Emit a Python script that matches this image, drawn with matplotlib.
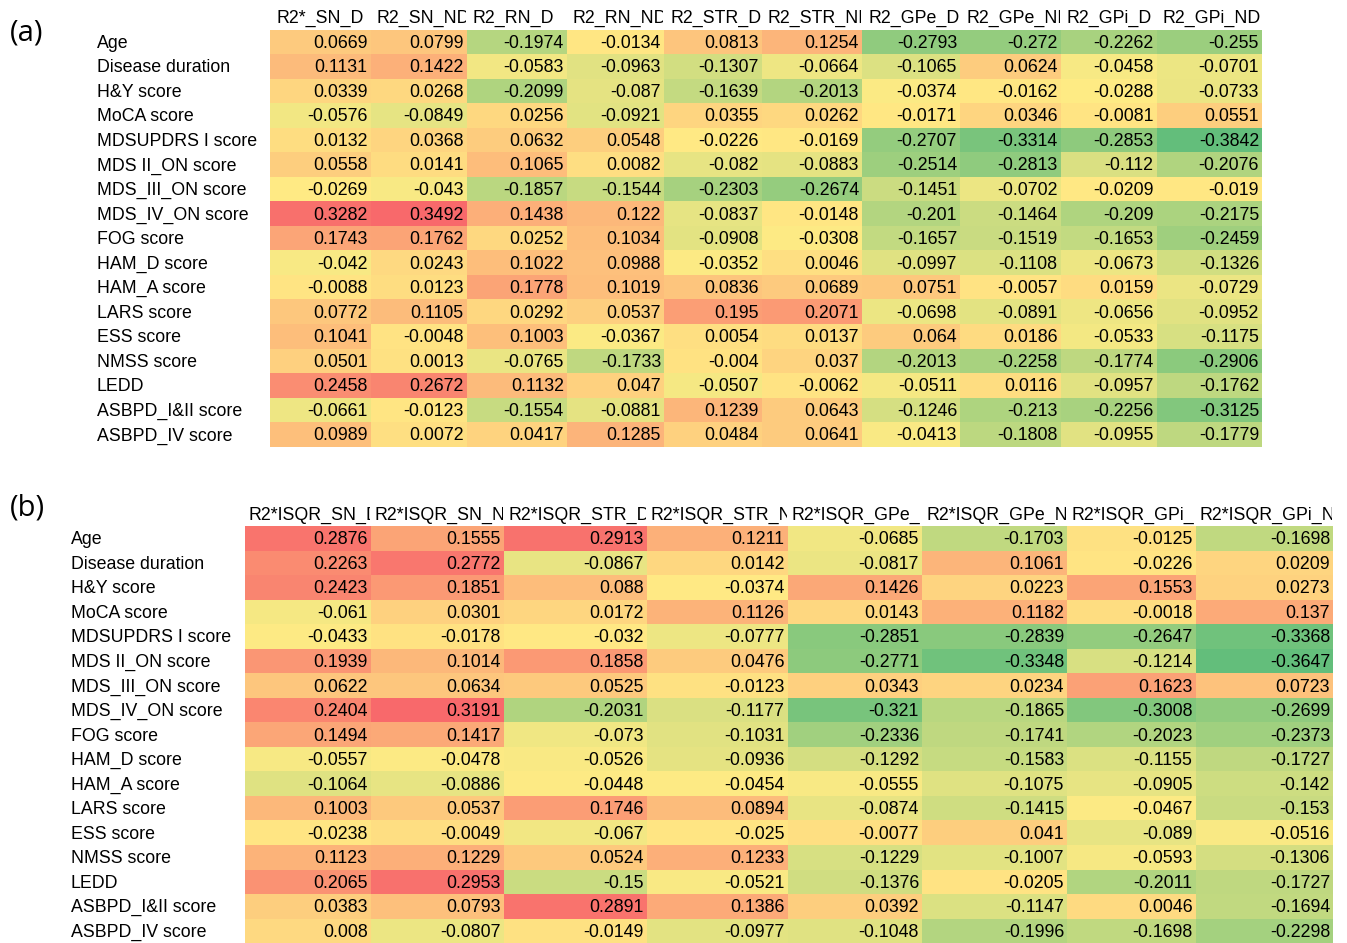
import matplotlib
matplotlib.use('Agg')
import matplotlib.pyplot as plt
import numpy as np
from matplotlib.colors import LinearSegmentedColormap, TwoSlopeNorm
from matplotlib.patches import Rectangle
from matplotlib.transforms import offset_copy

plt.rcParams['font.family'] = ['Liberation Sans', 'DejaVu Sans']

rows = ['Age', 'Disease duration', 'H&Y score', 'MoCA score', 'MDSUPDRS I score',
        'MDS II_ON score', 'MDS_III_ON score', 'MDS_IV_ON score', 'FOG score',
        'HAM_D score', 'HAM_A score', 'LARS score', 'ESS score', 'NMSS score',
        'LEDD', 'ASBPD_I&II score', 'ASBPD_IV score']

cols_a = ['R2*_SN_D', 'R2_SN_ND', 'R2_RN_D', 'R2_RN_ND', 'R2_STR_D', 'R2_STR_ND',
          'R2_GPe_D', 'R2_GPe_ND', 'R2_GPi_D', 'R2_GPi_ND']

vals_a = [
    [0.0669, 0.0799, -0.1974, -0.0134, 0.0813, 0.1254, -0.2793, -0.272, -0.2262, -0.255],
    [0.1131, 0.1422, -0.0583, -0.0963, -0.1307, -0.0664, -0.1065, 0.0624, -0.0458, -0.0701],
    [0.0339, 0.0268, -0.2099, -0.087, -0.1639, -0.2013, -0.0374, -0.0162, -0.0288, -0.0733],
    [-0.0576, -0.0849, 0.0256, -0.0921, 0.0355, 0.0262, -0.0171, 0.0346, -0.0081, 0.0551],
    [0.0132, 0.0368, 0.0632, 0.0548, -0.0226, -0.0169, -0.2707, -0.3314, -0.2853, -0.3842],
    [0.0558, 0.0141, 0.1065, 0.0082, -0.082, -0.0883, -0.2514, -0.2813, -0.112, -0.2076],
    [-0.0269, -0.043, -0.1857, -0.1544, -0.2303, -0.2674, -0.1451, -0.0702, -0.0209, -0.019],
    [0.3282, 0.3492, 0.1438, 0.122, -0.0837, -0.0148, -0.201, -0.1464, -0.209, -0.2175],
    [0.1743, 0.1762, 0.0252, 0.1034, -0.0908, -0.0308, -0.1657, -0.1519, -0.1653, -0.2459],
    [-0.042, 0.0243, 0.1022, 0.0988, -0.0352, 0.0046, -0.0997, -0.1108, -0.0673, -0.1326],
    [-0.0088, 0.0123, 0.1778, 0.1019, 0.0836, 0.0689, 0.0751, -0.0057, 0.0159, -0.0729],
    [0.0772, 0.1105, 0.0292, 0.0537, 0.195, 0.2071, -0.0698, -0.0891, -0.0656, -0.0952],
    [0.1041, -0.0048, 0.1003, -0.0367, 0.0054, 0.0137, 0.064, 0.0186, -0.0533, -0.1175],
    [0.0501, 0.0013, -0.0765, -0.1733, -0.004, 0.037, -0.2013, -0.2258, -0.1774, -0.2906],
    [0.2458, 0.2672, 0.1132, 0.047, -0.0507, -0.0062, -0.0511, 0.0116, -0.0957, -0.1762],
    [-0.0661, -0.0123, -0.1554, -0.0881, 0.1239, 0.0643, -0.1246, -0.213, -0.2256, -0.3125],
    [0.0989, 0.0072, 0.0417, 0.1285, 0.0484, 0.0641, -0.0413, -0.1808, -0.0955, -0.1779],
]

cols_b = ['R2*ISQR_SN_D', 'R2*ISQR_SN_ND', 'R2*ISQR_STR_D', 'R2*ISQR_STR_ND',
          'R2*ISQR_GPe_D', 'R2*ISQR_GPe_ND', 'R2*ISQR_GPi_D', 'R2*ISQR_GPi_ND']

vals_b = [
    [0.2876, 0.1555, 0.2913, 0.1211, -0.0685, -0.1703, -0.0125, -0.1698],
    [0.2263, 0.2772, -0.0867, 0.0142, -0.0817, 0.1061, -0.0226, 0.0209],
    [0.2423, 0.1851, 0.088, -0.0374, 0.1426, 0.0223, 0.1553, 0.0273],
    [-0.061, 0.0301, 0.0172, 0.1126, 0.0143, 0.1182, -0.0018, 0.137],
    [-0.0433, -0.0178, -0.032, -0.0777, -0.2851, -0.2839, -0.2647, -0.3368],
    [0.1939, 0.1014, 0.1858, 0.0476, -0.2771, -0.3348, -0.1214, -0.3647],
    [0.0622, 0.0634, 0.0525, -0.0123, 0.0343, 0.0234, 0.1623, 0.0723],
    [0.2404, 0.3191, -0.2031, -0.1177, -0.321, -0.1865, -0.3008, -0.2699],
    [0.1494, 0.1417, -0.073, -0.1031, -0.2336, -0.1741, -0.2023, -0.2373],
    [-0.0557, -0.0478, -0.0526, -0.0936, -0.1292, -0.1583, -0.1155, -0.1727],
    [-0.1064, -0.0886, -0.0448, -0.0454, -0.0555, -0.1075, -0.0905, -0.142],
    [0.1003, 0.0537, 0.1746, 0.0894, -0.0874, -0.1415, -0.0467, -0.153],
    [-0.0238, -0.0049, -0.067, -0.025, -0.0077, 0.041, -0.089, -0.0516],
    [0.1123, 0.1229, 0.0524, 0.1233, -0.1229, -0.1007, -0.0593, -0.1306],
    [0.2065, 0.2953, -0.15, -0.0521, -0.1376, -0.0205, -0.2011, -0.1727],
    [0.0383, 0.0793, 0.2891, 0.1386, 0.0392, -0.1147, 0.0046, -0.1694],
    [0.008, -0.0807, -0.0149, -0.0977, -0.1048, -0.1996, -0.1698, -0.2298],
]

# layout (pixels): spreadsheet column edges
edges_a = [270, 370.5, 466.5, 567, 664, 761.6, 862, 960, 1060.7, 1156.7, 1262]
edges_b = [245, 370.5, 504, 647, 787.5, 922, 1067, 1195.5, 1333]

# excel style green-yellow-red colour scale
cmap = LinearSegmentedColormap.from_list('excel_gyr', ['#63BE7B', '#FFEB84', '#F8696B'])

W, H = 1347, 943
fig = plt.figure(figsize=(W / 100, H / 100), dpi=100)
fs = 12.8


def draw_table(edges, top, bottom, label_x, data, cols, head_pad, tag, tag_y):
    data = np.array(data)
    nr = data.shape[0]
    ax = fig.add_axes([edges[0] / W, 1 - bottom / H, (edges[-1] - edges[0]) / W, (bottom - top) / H])
    norm = TwoSlopeNorm(vmin=data.min(), vcenter=np.median(data), vmax=data.max())
    ax.pcolormesh(edges, np.arange(nr + 1), data, cmap=cmap, norm=norm)
    ax.set_xlim(edges[0], edges[-1])
    ax.set_ylim(nr, 0)
    ax.set_axis_off()

    tr = offset_copy(ax.transData, fig=fig, x=-3, y=-1.5, units='dots')
    for i in range(nr):
        for j in range(data.shape[1]):
            ax.text(edges[j + 1], i + 0.5, str(data[i, j]), ha='right', va='center',
                    fontsize=fs, transform=tr)

    # headers: left aligned, cut off at the cell edge like the spreadsheet
    for j, c in enumerate(cols):
        x0, x1 = edges[j], edges[j + 1]
        t = ax.text(x0 + head_pad + 3, -0.5, c, ha='left', va='center', fontsize=fs,
                    transform=tr, clip_on=True)
        t.set_clip_path(Rectangle((x0, -1), x1 - x0 - 1, 1, transform=ax.transData))

    for i, r in enumerate(rows):
        ax.text(label_x, i + 0.5, r, ha='left', va='center', fontsize=fs, transform=tr)

    fig.text(10 / W, 1 - tag_y / H, tag, ha='left', va='center', fontsize=21,
             family=['Open Sans', 'DejaVu Sans'])


draw_table(edges_a, 29.5, 446.7, 100, vals_a, cols_a, 6, '(a)', 33)
draw_table(edges_b, 526, 943.2, 74, vals_b, cols_b, 4, '(b)', 508)

fig.savefig('out.png', dpi=100)
